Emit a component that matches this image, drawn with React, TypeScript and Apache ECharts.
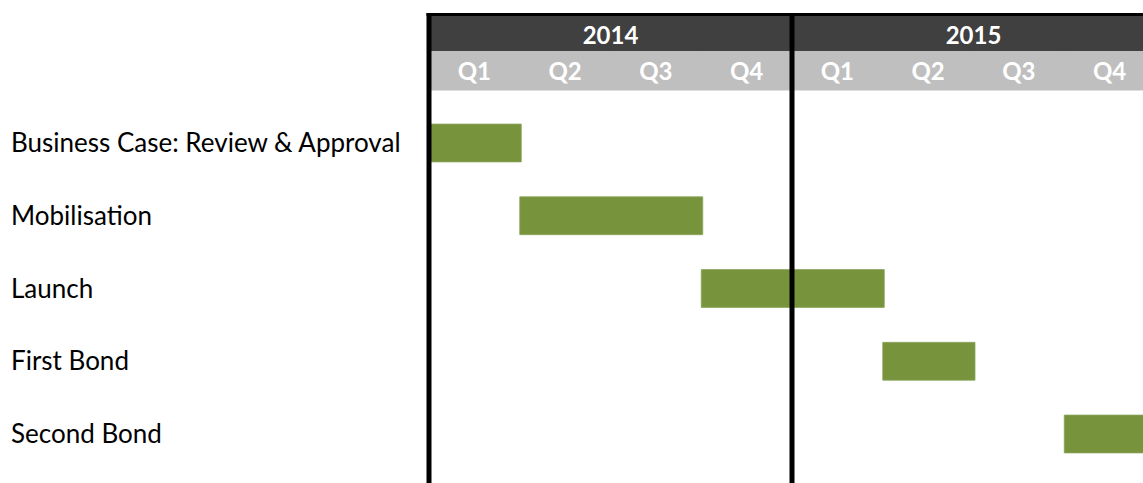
import React, { useEffect, useRef } from "react";
import * as echarts from "echarts";

const tasks = ["Business Case: Review & Approval", "Mobilisation", "Launch", "First Bond", "Second Bond"];
const taskStart = [0, 1, 3, 5, 7]; // in quarters from 2014 Q1
const taskEnd = [1, 3, 5, 6, 8];
const years = ["2014", "2015"];
const quarters = ["Q1", "Q2", "Q3", "Q4"];

const GREEN = "#77933c";
const DARK = "#404040";
const LIGHT = "#bfbfbf";

export default function App() {
  const ref = useRef<HTMLDivElement>(null);
  useEffect(() => {
    if (!ref.current) return;
    const chart = echarts.init(ref.current, undefined, { renderer: "svg" });
    const nQ = years.length * quarters.length;
    const barData = tasks.map((_, i) => [taskStart[i], taskEnd[i], i]);
    const yearData = years.map((_, i) => [i * quarters.length, (i + 1) * quarters.length, 0]);
    const quarterData = years.flatMap((_, yi) =>
      quarters.map((_, qi) => [yi * quarters.length + qi, yi * quarters.length + qi + 1, 0])
    );
    const dividerData = [...years.map((_, i) => [i * quarters.length, 0]), [nQ, 0]];

    const option: any = {
      animation: false,
      backgroundColor: "#ffffff",
      grid: [
        { left: 429, width: 726, top: 69.25, height: 436.5 },
        { left: 429, width: 726, top: 13, height: 77 },
      ],
      xAxis: [
        { type: "value", gridIndex: 0, min: 0, max: nQ, show: false },
        { type: "value", gridIndex: 1, min: 0, max: nQ, show: false },
      ],
      yAxis: [
        {
          type: "value",
          gridIndex: 0,
          inverse: true,
          min: -1,
          max: tasks.length,
          interval: 1,
          axisLine: { show: false },
          axisTick: { show: false },
          splitLine: { show: false },
          axisLabel: {
            formatter: (v: number) => tasks[v] ?? "",
            align: "left",
            margin: 418,
            fontSize: 26,
            fontFamily: "Lato",
            color: "#000000",
          },
        },
        { type: "value", gridIndex: 1, inverse: true, min: 0, max: 77, show: false },
      ],
      series: [
        {
          type: "custom",
          xAxisIndex: 0,
          yAxisIndex: 0,
          z: 2,
          data: barData,
          encode: { x: [0, 1], y: 2 },
          renderItem: (params: any, api: any) => {
            const s = api.coord([api.value(0), api.value(2)]);
            const e = api.coord([api.value(1), api.value(2)]);
            const h = api.size([0, 1])[1] * 0.52;
            return {
              type: "rect",
              shape: { x: s[0], y: s[1] - h / 2 + 1, width: e[0] - s[0] + 1.5, height: h },
              style: { fill: GREEN, stroke: "#8aa55a", lineWidth: 0.8 },
            };
          },
        },
        {
          type: "custom",
          xAxisIndex: 1,
          yAxisIndex: 1,
          z: 5,
          data: yearData,
          encode: { x: [0, 1], y: 2 },
          renderItem: (params: any, api: any) => {
            const cs = params.coordSys;
            const s = api.coord([api.value(0), 0]);
            const e = api.coord([api.value(1), 0]);
            const top = cs.y + 3;
            const bottom = cs.y + 38;
            return {
              type: "group",
              children: [
                {
                  type: "rect",
                  shape: { x: s[0], y: top, width: e[0] - s[0], height: bottom - top },
                  style: { fill: DARK, stroke: DARK, lineWidth: 1 },
                },
                {
                  type: "text",
                  style: {
                    text: years[params.dataIndex],
                    x: (s[0] + e[0]) / 2,
                    y: (top + bottom) / 2 + 0.5,
                    align: "center",
                    verticalAlign: "middle",
                    fill: "#ffffff",
                    fontSize: 24,
                    fontWeight: "bold",
                    fontFamily: "Lato",
                  },
                },
              ],
            };
          },
        },
        {
          type: "custom",
          xAxisIndex: 1,
          yAxisIndex: 1,
          z: 5,
          data: quarterData,
          encode: { x: [0, 1], y: 2 },
          renderItem: (params: any, api: any) => {
            const cs = params.coordSys;
            const s = api.coord([api.value(0), 0]);
            const e = api.coord([api.value(1), 0]);
            const top = cs.y + 38.5;
            const bottom = cs.y + 77;
            return {
              type: "group",
              children: [
                {
                  type: "rect",
                  shape: { x: s[0], y: top, width: e[0] - s[0], height: bottom - top },
                  style: { fill: LIGHT, stroke: LIGHT, lineWidth: 1 },
                },
                {
                  type: "text",
                  style: {
                    text: quarters[params.dataIndex % quarters.length],
                    x: (s[0] + e[0]) / 2,
                    y: (top + bottom) / 2,
                    align: "center",
                    verticalAlign: "middle",
                    fill: "#ffffff",
                    fontSize: 24,
                    fontWeight: "bold",
                    fontFamily: "Lato",
                  },
                },
              ],
            };
          },
        },
        {
          type: "custom",
          xAxisIndex: 1,
          yAxisIndex: 1,
          z: 10,
          data: dividerData,
          encode: { x: 0, y: 1 },
          renderItem: (params: any, api: any) => {
            const cs = params.coordSys;
            const p = api.coord([api.value(0), 0]);
            const children: any[] = [
              {
                type: "line",
                shape: { x1: p[0], y1: cs.y, x2: p[0], y2: api.getHeight() },
                style: { stroke: "#000000", lineWidth: 5 },
              },
            ];
            if (params.dataIndex === 0) {
              children.push({
                type: "line",
                shape: { x1: p[0] - 2.5, y1: cs.y + 1.5, x2: api.getWidth(), y2: cs.y + 1.5 },
                style: { stroke: "#000000", lineWidth: 3 },
              });
            }
            return { type: "group", children };
          },
        },
      ],
    };
    chart.setOption(option);
    return () => chart.dispose();
  }, []);

  return (
    <div style={{ position: "fixed", left: 0, top: 0, width: 1143, height: 483, overflow: "hidden", background: "#fff" }}>
      <div ref={ref} style={{ width: 1160, height: 520 }} />
    </div>
  );
}
